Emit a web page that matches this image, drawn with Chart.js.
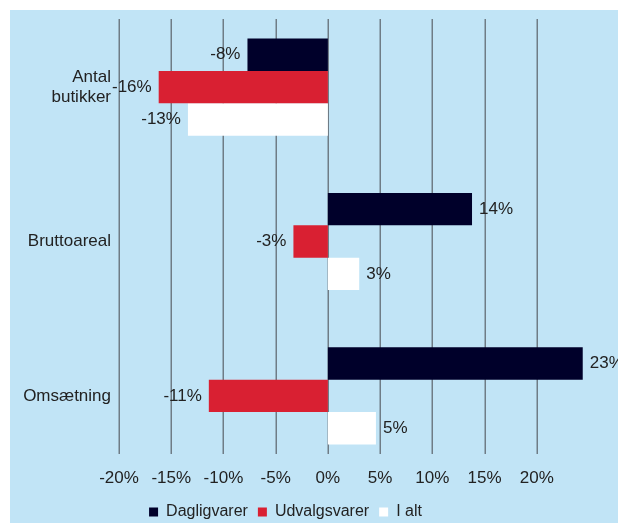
<!DOCTYPE html>
<html>
<head>
<meta charset="utf-8">
<script src="https://cdn.jsdelivr.net/npm/chart.js@4/dist/chart.umd.min.js"></script>
<style>
  html, body { margin: 0; padding: 0; background: #ffffff; }
  #wrap { position: absolute; left: 10px; top: 10px; width: 608px; height: 513px; background: #c1e4f6; }
</style>
</head>
<body>
<div id="wrap"><canvas id="c" width="608" height="513"></canvas></div>
<script>
const categories = [['Antal', 'butikker'], 'Bruttoareal', 'Omsætning'];
const seriesNames = ['Dagligvarer', 'Udvalgsvarer', 'I alt'];
const dagligvarer = [-7.7, 13.8, 24.4];
const udvalgsvarer = [-16.2, -3.3, -11.4];
const iAlt = [-13.4, 3.0, 4.6];
const dagligvarerLabels = ['-8%', '14%', '23%'];
const udvalgsvarerLabels = ['-16%', '-3%', '-11%'];
const iAltLabels = ['-13%', '3%', '5%'];
const tickValues = [-20, -15, -10, -5, 0, 5, 10, 15, 20];

const FONT = 'Liberation Sans, Arial, sans-serif';
const TEXT = '#222222';

const gridPlugin = {
  id: 'customGrid',
  beforeDatasetsDraw(chart) {
    const { ctx, chartArea, scales } = chart;
    ctx.save();
    ctx.strokeStyle = '#6f7c86';
    ctx.lineWidth = 1.5;
    const top = chartArea.top + 9;
    const bottom = chartArea.bottom - 19;
    tickValues.forEach(v => {
      const x = Math.round(scales.x.getPixelForValue(v)) + 0.25;
      ctx.beginPath();
      ctx.moveTo(x, top);
      ctx.lineTo(x, bottom);
      ctx.stroke();
    });
    ctx.restore();
  }
};

const labelPlugin = {
  id: 'barLabels',
  afterDatasetsDraw(chart) {
    const { ctx } = chart;
    ctx.save();
    ctx.font = '17px ' + FONT;
    ctx.fillStyle = TEXT;
    ctx.textBaseline = 'middle';
    chart.data.datasets.forEach((ds, di) => {
      const meta = chart.getDatasetMeta(di);
      meta.data.forEach((bar, i) => {
        const v = ds.data[i];
        const txt = ds.valueLabels[i];
        if (v < 0) {
          ctx.textAlign = 'right';
          ctx.fillText(txt, bar.x - 7, bar.y);
        } else {
          ctx.textAlign = 'left';
          ctx.fillText(txt, bar.x + 7, bar.y);
        }
      });
    });
    ctx.restore();
  }
};

const legendShift = {
  id: 'legendShift',
  afterLayout(chart) {
    const lg = chart.legend;
    if (lg) { lg.left -= 14; lg.right -= 14; lg.top += 7; lg.bottom += 7; }
  }
};

new Chart(document.getElementById('c'), {
  type: 'bar',
  data: {
    labels: categories,
    datasets: [
      { label: seriesNames[0], data: dagligvarer, valueLabels: dagligvarerLabels, backgroundColor: '#00002a' },
      { label: seriesNames[1], data: udvalgsvarer, valueLabels: udvalgsvarerLabels, backgroundColor: '#d92032' },
      { label: seriesNames[2], data: iAlt, valueLabels: iAltLabels, backgroundColor: '#ffffff' }
    ]
  },
  options: {
    indexAxis: 'y',
    responsive: false,
    animation: false,
    devicePixelRatio: 1,
    categoryPercentage: 0.63,
    barPercentage: 1.0,
    layout: { padding: { top: 0, right: 29, left: 0, bottom: 0 } },
    scales: {
      x: {
        min: -20,
        max: 25,
        grid: { display: false, drawTicks: false },
        border: { display: false },
        afterBuildTicks(scale) { scale.ticks = tickValues.map(v => ({ value: v })); },
        afterFit(scale) {
          scale.height = 14;
          scale.paddingLeft = 0; scale.paddingRight = 0;
          scale._computeLabelArea = () => undefined;
        },
        ticks: {
          padding: -5,
          color: TEXT,
          font: { family: FONT, size: 17 },
          callback: v => v + '%'
        }
      },
      y: {
        grid: { display: false, drawTicks: false },
        border: { display: false },
        afterFit(scale) { scale.width = 109; scale.paddingTop = 0; scale.paddingBottom = 0; },
        ticks: {
          padding: 8,
          color: TEXT,
          font: { family: FONT, size: 17, lineHeight: 1.2 }
        }
      }
    },
    plugins: {
      legend: {
        position: 'bottom',
        labels: {
          boxWidth: 9,
          boxHeight: 9,
          padding: 10,
          color: TEXT,
          font: { family: FONT, size: 16 }
        }
      },
      tooltip: { enabled: false }
    }
  },
  plugins: [gridPlugin, labelPlugin, legendShift]
});
</script>
</body>
</html>
